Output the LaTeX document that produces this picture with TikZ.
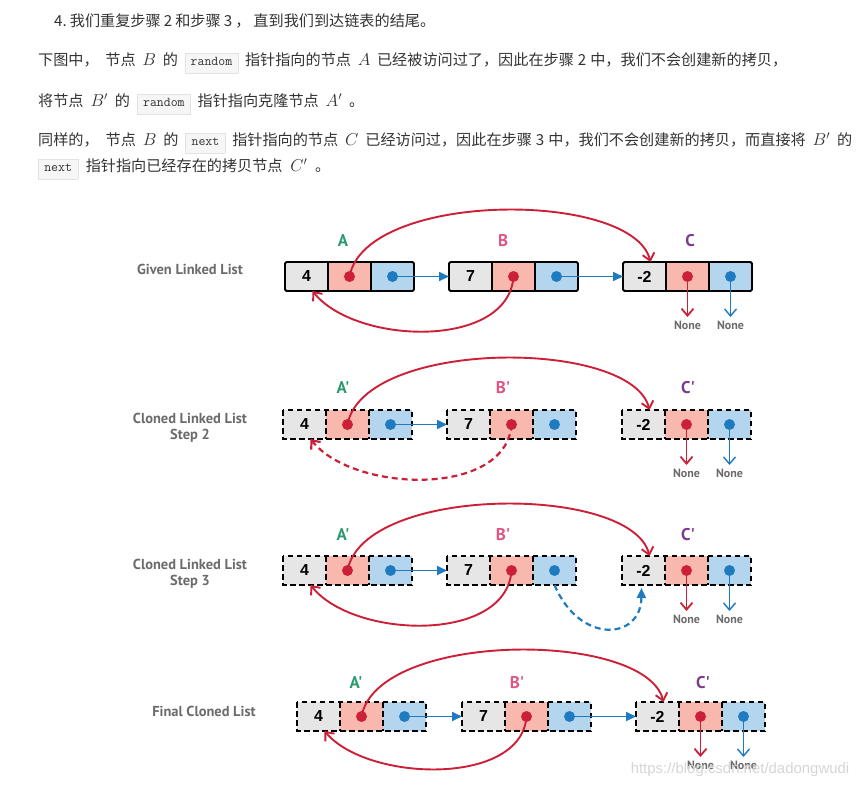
\documentclass[tikz,border=0pt]{standalone}
\usepackage{fontspec}
\newfontfamily\cjk{Noto Sans CJK SC}
\newfontfamily\dfont{PT Sans}
\newfontfamily\numfont{Liberation Sans}
\newfontfamily\wmfont{Liberation Sans}
\usetikzlibrary{arrows.meta,calc}
\definecolor{txtc}{HTML}{333333}
\definecolor{cellgray}{HTML}{E6E6E6}
\definecolor{cellred}{HTML}{F9B8AE}
\definecolor{cellblue}{HTML}{B4D5EE}
\definecolor{rptr}{HTML}{CC2038}
\definecolor{bptr}{HTML}{1E7BC0}
\definecolor{lblA}{HTML}{2A9A6E}
\definecolor{lblB}{HTML}{E05585}
\definecolor{lblC}{HTML}{7A3C8C}
\definecolor{lblg}{HTML}{6B6B6B}
\definecolor{codebg}{HTML}{F6F6F6}
\definecolor{codeframe}{HTML}{E3E3E3}
\newcommand\codebox[1]{{\setlength\fboxsep{4bp}\setlength\fboxrule{0.6bp}\fcolorbox{codeframe}{codebg}{\ttfamily\fontsize{13.5}{13.5}\selectfont\vphantom{Ag}\hspace{1.5bp}#1\hspace{1.5bp}}}}
\newcommand\mth[1]{{\fontsize{18}{18}\selectfont$#1$}}
\newcommand\gp{\hspace{3bp plus 1fil}}
\newcommand\dg{\hspace{4bp}}
\tikzset{
  txt/.style={font=\cjk\fontsize{15.2}{16}\selectfont, text=txtc, inner sep=0pt, anchor=west},
  cell/.style={minimum width=43bp, minimum height=29bp, inner sep=0pt, outer sep=0pt, anchor=west, font=\numfont\bfseries\fontsize{16}{16}\selectfont},
  vcell/.style={cell, fill=cellgray},
  rcell/.style={cell, fill=cellred},
  ncell/.style={cell, fill=cellblue},
  solidb/.style={draw=black, line width=1.9bp},
  dashb/.style={draw=black, line width=2.1bp, dash pattern=on 5.5bp off 3.5bp},
  nextarr/.style={draw=bptr, line width=1.7bp, -{Triangle[length=10bp,width=9bp]}},
  randarr/.style={draw=rptr, line width=1.9bp, -{Straight Barb[length=7bp,width=12bp]}},
  rnone/.style={draw=rptr, line width=1.8bp, -{Straight Barb[length=7bp,width=12bp]}},
  bnone/.style={draw=bptr, line width=1.4bp, -{Straight Barb[length=7bp,width=12bp]}},
  dashy/.style={dash pattern=on 6bp off 4bp, line width=2.2bp},
  nonelbl/.style={font=\dfont\bfseries\fontsize{12}{12}\selectfont, text=lblg, inner sep=1bp},
  rowlbl/.style={font=\dfont\bfseries\fontsize{14.5}{16.5}\selectfont, text=lblg, align=center, inner sep=0pt},
  nlbl/.style={font=\dfont\bfseries\fontsize{17}{17}\selectfont, inner sep=0pt},
}
\newcommand\mklist[4]{%
  \node[vcell] (#1v) at (#2,#3) {#4};
  \node[rcell] (#1r) at (#1v.east) {};
  \node[ncell] (#1n) at (#1r.east) {};}
\newcommand\solidframe[1]{%
  \draw[solidb, rounded corners=1.5bp] (#1v.north west) rectangle (#1n.south east);
  \draw[solidb] (#1r.north west) -- (#1r.south west) (#1n.north west) -- (#1n.south west);}
\newcommand\dashframe[1]{%
  \draw[dashb] (#1v.north west) rectangle (#1n.south east);
  \draw[dashb] (#1r.north west) -- (#1r.south west) (#1n.north west) -- (#1n.south west);}
\newcommand\ptrdots[1]{%
  \fill[rptr] (#1r.center) circle (5.5bp);
  \fill[bptr] (#1n.center) circle (5.5bp);}
\begin{document}
\begin{tikzpicture}[x=1bp,y=-1bp]
\fill[white] (0,0) rectangle (864,788);
\useasboundingbox (0,0) rectangle (864,788);

% ---------- text ----------
\node[txt] (l1) at (54,21) {\hbox to 381bp{4.\gp 我们重复步骤\gp 2\gp 和步骤\gp 3\gp ，\gp 直到我们到达链表的结尾。}};
\node[txt] (l2) at (38,63) {\hbox to 749bp{下图中，\gp 节点\gp\mth{B}\gp 的\gp\codebox{random}\gp 指针指向的节点\gp\mth{A}\gp 已经被访问过了，因此在步骤\dg 2\dg 中，我们不会创建新的拷贝，}};
\node[txt] (l3) at (38,104) {\hbox to 326bp{将节点\gp\mth{B'}\gp 的\gp\codebox{random}\gp 指针指向克隆节点\gp\mth{A'}\gp 。}};
\node[txt] (l4) at (38,143) {\hbox to 814bp{同样的，\gp 节点\gp\mth{B}\gp 的\gp\codebox{next}\gp 指针指向的节点\gp\mth{C}\gp 已经访问过，因此在步骤\dg 3\dg 中，我们不会创建新的拷贝，而直接将\gp\mth{B'}\gp 的}};
\node[txt] (l5) at (38,169) {\hbox to 292bp{\codebox{next}\gp 指针指向已经存在的拷贝节点\gp\mth{C'}\gp 。}};

% ---------- row labels ----------
\node[rowlbl] (rl1) at (190,269) {Given Linked List};
\node[rowlbl] (rl2) at (190,428) {Cloned Linked List\\Step 2};
\node[rowlbl] (rl3) at (190,574) {Cloned Linked List\\Step 3};
\node[rowlbl] (rl4) at (204,711) {Final Cloned List};

% ---------- node labels ----------
\node[nlbl, text=lblA] (ta1) at (343,241) {A};
\node[nlbl, text=lblB] (tb1) at (503,241) {B};
\node[nlbl, text=lblC] (tc1) at (690,241) {C};
\node[nlbl, text=lblA] (ta2) at (343,388) {A'};
\node[nlbl, text=lblB] (tb2) at (503,388) {B'};
\node[nlbl, text=lblC] (tc2) at (688,388) {C'};
\node[nlbl, text=lblA] (ta3) at (343,535) {A'};
\node[nlbl, text=lblB] (tb3) at (503,535) {B'};
\node[nlbl, text=lblC] (tc3) at (688,535) {C'};
\node[nlbl, text=lblA] (ta4) at (356,683) {A'};
\node[nlbl, text=lblB] (tb4) at (517,683) {B'};
\node[nlbl, text=lblC] (tc4) at (703,683) {C'};

% ---------- list cells ----------
\mklist{a1}{285}{276.5}{4}\mklist{b1}{449}{276.5}{7}\mklist{c1}{623}{276.5}{-2}
\mklist{a2}{283}{424.5}{4}\mklist{b2}{447}{424.5}{7}\mklist{c2}{622}{424.5}{-2}
\mklist{a3}{283}{570.5}{4}\mklist{b3}{447}{570.5}{7}\mklist{c3}{622}{570.5}{-2}
\mklist{a4}{297}{716.5}{4}\mklist{b4}{462}{716.5}{7}\mklist{c4}{636}{716.5}{-2}

\solidframe{a1}\solidframe{b1}\solidframe{c1}
\dashframe{a2}\dashframe{b2}\dashframe{c2}
\dashframe{a3}\dashframe{b3}\dashframe{c3}
\dashframe{a4}\dashframe{b4}\dashframe{c4}

% ---------- None labels ----------
\foreach \r in {1,2,3,4}{
  \node[nonelbl] (nr\r) at ($(c\r r.center)+(0,49)$) {None};
  \node[nonelbl] (nb\r) at ($(c\r n.center)+(0,49)$) {None};
  \draw[rnone] (c\r r.center) -- ($(nr\r.north)+(0,-3)$);
  \draw[bnone] (c\r n.center) -- ($(nb\r.north)+(0,-3)$);
}

% ---------- next pointers ----------
\draw[nextarr] (a1n.center) -- (b1v.west);
\draw[nextarr] (b1n.center) -- (c1v.west);
\draw[nextarr] (a2n.center) -- (b2v.west);
\draw[nextarr] (a3n.center) -- (b3v.west);
\draw[nextarr, dashy] (b3n.south) .. controls (580,645) and (641,640) .. ($(c3v.south)+(-2,3)$);
\draw[nextarr] (a4n.center) -- (b4v.west);
\draw[nextarr] (b4n.center) -- (c4v.west);

% ---------- random pointers ----------
\foreach \r in {1,2,3,4}{
  \draw[randarr] (a\r r.center) .. controls ($(a\r r.center)+(16,-86)$) and ($(c\r v.north)+(-12,-72)$) .. ($(c\r v.north)+(6,0)$);
}
\draw[randarr] (b1r.center) .. controls ($(b1r.center)+(-5,73)$) and ($(a1v.south)+(49,54)$) .. ($(a1v.south)+(6,0)$);
\draw[randarr, dashy] (b2r.center) .. controls ($(b2r.center)+(-5,73)$) and ($(a2v.south)+(49,54)$) .. ($(a2v.south)+(6,0)$);
\draw[randarr] (b3r.center) .. controls ($(b3r.center)+(-5,73)$) and ($(a3v.south)+(49,54)$) .. ($(a3v.south)+(6,0)$);
\draw[randarr] (b4r.center) .. controls ($(b4r.center)+(-5,70)$) and ($(a4v.south)+(49,51)$) .. ($(a4v.south)+(6,0)$);

% ---------- dots ----------
\ptrdots{a1}\ptrdots{b1}\ptrdots{c1}
\ptrdots{a2}\ptrdots{b2}\ptrdots{c2}
\ptrdots{a3}\ptrdots{b3}\ptrdots{c3}
\ptrdots{a4}\ptrdots{b4}\ptrdots{c4}

% ---------- watermark ----------
\node[font=\wmfont\fontsize{15}{15}\selectfont, text=black!16, inner sep=0pt] (wm) at (740,770) {https://blog.csdn.net/dadongwudi};
\end{tikzpicture}
\end{document}
